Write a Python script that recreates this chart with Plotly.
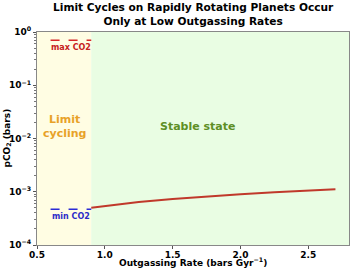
import math
import plotly.graph_objects as go

# Data
outgassing = [0.9, 1.0, 1.25, 1.5, 1.75, 2.0, 2.25, 2.5, 2.7]
pco2_stable = [5.0e-4, 5.4e-4, 6.4e-4, 7.3e-4, 8.2e-4, 9.0e-4, 9.8e-4, 1.06e-3, 1.12e-3]
cycle_x = [0.6, 0.9]
max_co2 = [0.7, 0.7]
min_co2 = [4.7e-4, 4.7e-4]
boundary = 0.9
x_range = [0.5, 2.8]
xtick_vals = [0.5, 1.0, 1.5, 2.0, 2.5]
xtick_text = ["0.5", "1.0", "1.5", "2.0", "2.5"]
ytick_vals = [1e-4, 1e-3, 1e-2, 1e-1, 1]
ytick_text = ["10<sup>−4</sup>", "10<sup>−3</sup>", "10<sup>−2</sup>", "10<sup>−1</sup>", "10<sup>0</sup>"]

FONT = "DejaVu Sans"
fig = go.Figure()

fig.add_shape(type="rect", xref="x", yref="paper", x0=x_range[0], x1=boundary, y0=0, y1=1,
              fillcolor="#FFFDE3", line_width=0, layer="below")
fig.add_shape(type="rect", xref="x", yref="paper", x0=boundary, x1=x_range[1], y0=0, y1=1,
              fillcolor="#E9FDE3", line_width=0, layer="below")

fig.add_trace(go.Scatter(x=outgassing, y=pco2_stable, mode="lines",
                         line=dict(color="#C0392B", width=2), showlegend=False))
fig.add_trace(go.Scatter(x=cycle_x, y=max_co2, mode="lines",
                         line=dict(color="#D62728", width=1.5, dash="dash"), showlegend=False))
fig.add_trace(go.Scatter(x=cycle_x, y=min_co2, mode="lines",
                         line=dict(color="#2B2BD6", width=1.5, dash="dash"), showlegend=False))

mid_cycle = sum(cycle_x) / 2
fig.add_annotation(x=mid_cycle, y=math.log10(max_co2[0]), xref="x", yref="y", text="<b>max CO2</b>",
                   showarrow=False, yanchor="top", yshift=-1,
                   font=dict(family=FONT, size=8, color="#C62020"))
fig.add_annotation(x=mid_cycle, y=math.log10(min_co2[0]), xref="x", yref="y", text="<b>min CO2</b>",
                   showarrow=False, yanchor="top", yshift=-1,
                   font=dict(family=FONT, size=8, color="#2B2BC8"))
fig.add_annotation(x=0.7, y=-1.78, xref="x", yref="y", text="<b>Limit<br>cycling</b>", showarrow=False,
                   font=dict(family=FONT, size=11, color="#E8A228"))
fig.add_annotation(x=1.69, y=-1.78, xref="x", yref="y", text="<b>Stable state</b>", showarrow=False,
                   font=dict(family=FONT, size=11, color="#5E8F25"))

# Title and axis titles as annotations for exact placement
fig.add_annotation(x=0.5, y=1, xref="paper", yref="paper", yshift=18, yanchor="middle", xanchor="center",
                   text="<b>Limit Cycles on Rapidly Rotating Planets Occur<br>Only at Low Outgassing Rates</b>",
                   showarrow=False, font=dict(family=FONT, size=10.6, color="black"))
fig.add_annotation(x=0.5, y=0, xref="paper", yref="paper", yshift=-17, yanchor="middle", xanchor="center",
                   text="<b>Outgassing Rate (bars Gyr<sup>−1</sup>)</b>",
                   showarrow=False, font=dict(family=FONT, size=9, color="black"))
fig.add_annotation(x=0, y=0.5, xref="paper", yref="paper", xshift=-30, xanchor="center", yanchor="middle",
                   textangle=-90, text="<b>pCO<sub>2</sub> (bars)</b>",
                   showarrow=False, font=dict(family=FONT, size=9, color="black"))

fig.update_layout(
    width=350, height=269,
    margin=dict(l=37, r=1, t=32, b=24, autoexpand=False),
    paper_bgcolor="white", plot_bgcolor="white",
    font=dict(family=FONT, color="black"),
)
fig.update_xaxes(range=x_range, tickvals=xtick_vals, ticktext=[f"<b>{t}</b>" for t in xtick_text],
                 automargin=False, ticklabelstandoff=-2,
                 ticks="outside", ticklen=3, tickcolor="#555", showgrid=False, zeroline=False,
                 showline=True, linecolor="#888", linewidth=1, mirror=True,
                 tickfont=dict(family=FONT, size=9))
minor_vals = [m * 10 ** e for e in range(-4, 0) for m in range(2, 10)]
fig.update_yaxes(type="log", range=[-4, 0], tickvals=ytick_vals, ticktext=[f"<b>{t}</b>" for t in ytick_text],
                 automargin=False,
                 ticks="outside", ticklen=3, tickcolor="#555", showgrid=False, zeroline=False,
                 showline=True, linecolor="#888", linewidth=1, mirror=True,
                 minor=dict(tickvals=minor_vals, ticks="outside", ticklen=2, tickcolor="#777", showgrid=False),
                 tickfont=dict(family=FONT, size=9))

fig.write_html("out.html", config={"displayModeBar": False},
               post_script="document.body.style.margin='0';")
